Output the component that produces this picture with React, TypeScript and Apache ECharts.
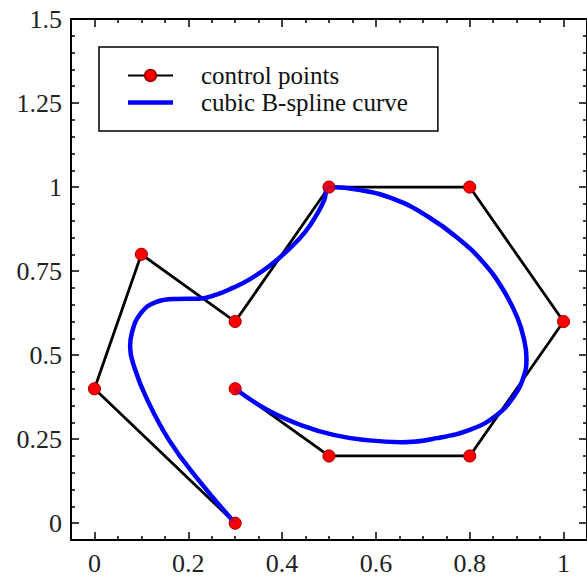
import React, { useEffect, useRef } from "react";
import * as echarts from "echarts";

const ctrlX = [0.3, 0, 0.1, 0.3, 0.5, 0.8, 1, 0.8, 0.5, 0.3];
const ctrlY = [0, 0.4, 0.8, 0.6, 1, 1, 0.6, 0.2, 0.2, 0.4];

const curveX = [0.3, 0.222, 0.159, 0.11, 0.085, 0.076, 0.08, 0.099, 0.131, 0.174, 0.222, 0.26, 0.295, 0.328, 0.37, 0.413, 0.449, 0.476, 0.49, 0.5, 0.567, 0.639, 0.709, 0.775, 0.83, 0.872, 0.902, 0.916, 0.921, 0.914, 0.893, 0.857, 0.804, 0.73, 0.652, 0.582, 0.512, 0.44, 0.37, 0.3];
const curveY = [0, 0.128, 0.247, 0.375, 0.464, 0.524, 0.568, 0.625, 0.658, 0.667, 0.668, 0.68, 0.7, 0.723, 0.762, 0.813, 0.866, 0.923, 0.962, 1.0, 0.991, 0.964, 0.914, 0.848, 0.774, 0.693, 0.61, 0.545, 0.491, 0.432, 0.375, 0.321, 0.28, 0.253, 0.241, 0.247, 0.262, 0.292, 0.336, 0.4];

const xMajor = [0, 0.2, 0.4, 0.6, 0.8, 1];
const xLabels = ["0", "0.2", "0.4", "0.6", "0.8", "1"];
const xMinor = [0.05, 0.1, 0.15, 0.25, 0.3, 0.35, 0.45, 0.5, 0.55, 0.65, 0.7, 0.75, 0.85, 0.9, 0.95];
const yMajor = [0, 0.25, 0.5, 0.75, 1, 1.25, 1.5];
const yLabels = ["0", "0.25", "0.5", "0.75", "1", "1.25", "1.5"];
const yMinor = [0.05, 0.1, 0.15, 0.2, 0.3, 0.35, 0.4, 0.45, 0.55, 0.6, 0.65, 0.7, 0.8, 0.85, 0.9, 0.95, 1.05, 1.1, 1.15, 1.2, 1.3, 1.35, 1.4, 1.45];

const SERIF = "Liberation Serif";

function labelFor(values: number[], labels: string[]) {
  return (v: number) => {
    for (let i = 0; i < values.length; i++) {
      if (Math.abs(values[i] - v) < 1e-6) return labels[i];
    }
    return "";
  };
}

export default function App() {
  const ref = useRef<HTMLDivElement>(null);
  useEffect(() => {
    if (!ref.current) return;
    const chart = echarts.init(ref.current, undefined, { renderer: "svg" });
    const line = { onZero: false, lineStyle: { color: "#000", width: 2 } };
    const tickStyle = { color: "#000", width: 1.5 };
    const mkX = (pos: string, major: boolean, showLine: boolean, showLabel: boolean) => ({
      type: "value",
      position: pos,
      min: -0.05,
      max: 1.05,
      axisLine: { show: showLine, ...line },
      axisTick: { show: true, inside: true, length: major ? 8 : 4, customValues: major ? xMajor : xMinor, lineStyle: tickStyle },
      axisLabel: {
        show: showLabel,
        customValues: xMajor,
        formatter: labelFor(xMajor, xLabels),
        fontSize: 26,
        fontFamily: SERIF,
        color: "#222",
        margin: 10,
      },
      splitLine: { show: false },
    });
    const mkY = (pos: string, major: boolean, showLine: boolean, showLabel: boolean) => ({
      type: "value",
      position: pos,
      min: -0.05,
      max: 1.5,
      axisLine: { show: showLine, ...line },
      axisTick: { show: true, inside: true, length: major ? 8 : 4, customValues: major ? yMajor : yMinor, lineStyle: tickStyle },
      axisLabel: {
        show: showLabel,
        customValues: yMajor,
        formatter: labelFor(yMajor, yLabels),
        fontSize: 26,
        fontFamily: SERIF,
        color: "#222",
        margin: 9,
      },
      splitLine: { show: false },
    });
    const ctrlData = ctrlX.map((x, i) => [x, ctrlY[i]]);
    const curveData = curveX.map((x, i) => [x, curveY[i]]);
    chart.setOption({
      animation: false,
      backgroundColor: "#fff",
      grid: { left: 71, top: 19, right: -4, bottom: 40 },
      legend: {
        show: true,
        orient: "vertical",
        left: 99,
        top: 47,
        data: [
          { name: "control points" },
          { name: "cubic B-spline curve", icon: "path://M0,0 H45 V4.5 H0 Z" },
        ],
        itemWidth: 45,
        itemHeight: 14,
        itemGap: 2,
        padding: [16, 30, 16, 28],
        borderColor: "#000",
        borderWidth: 1.5,
        backgroundColor: "#fff",
        textStyle: { fontSize: 25, fontFamily: SERIF, color: "#111", padding: [0, 0, 0, 23] },
      },
      xAxis: [mkX("bottom", true, true, true), mkX("bottom", false, false, false), mkX("top", true, true, false), mkX("top", false, false, false)],
      yAxis: [mkY("left", true, true, true), mkY("left", false, false, false), mkY("right", true, true, false), mkY("right", false, false, false)],
      series: [
        {
          name: "control points",
          type: "line",
          data: ctrlData,
          z: 2,
          symbol: "circle",
          symbolSize: 12,
          showSymbol: true,
          lineStyle: { color: "#000", width: 2.8 },
          itemStyle: { color: "#ff0000", borderColor: "#a00000", borderWidth: 0.8 },
        },
        {
          name: "cubic B-spline curve",
          type: "line",
          data: curveData,
          z: 3,
          smooth: 0.45,
          symbol: "none",
          showSymbol: false,
          lineStyle: { color: "#0000ff", width: 4.5 },
          itemStyle: { color: "#0000ff" },
        },
        {
          type: "scatter",
          data: ctrlData,
          z: 4,
          silent: true,
          symbol: "circle",
          symbolSize: 12,
          itemStyle: { color: "#ff0000", borderColor: "#a00000", borderWidth: 0.8 },
        },
      ],
    });
    return () => chart.dispose();
  }, []);
  return <div ref={ref} style={{ position: "absolute", left: 0, top: 0, width: 587, height: 580 }} />;
}
